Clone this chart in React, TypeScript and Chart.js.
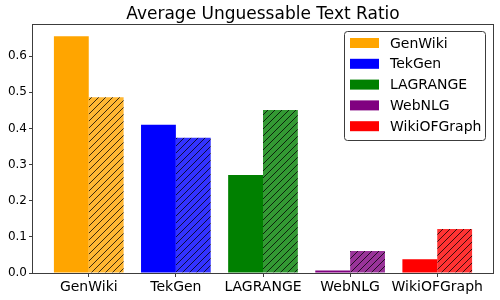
import React, { useEffect, useRef } from "react";
import { Chart, registerables } from "chart.js";

Chart.register(...registerables);

const categories = ["GenWiki", "TekGen", "LAGRANGE", "WebNLG", "WikiOFGraph"];
const solidValues = [0.655, 0.41, 0.271, 0.007, 0.038];
const hatchedValues = [0.486, 0.374, 0.451, 0.061, 0.122];
const colors = ["#FFA500", "#0000FF", "#008000", "#800080", "#FF0000"];
const hatchedColors = [
  "rgba(255,165,0,0.8)",
  "rgba(0,0,255,0.8)",
  "rgba(0,128,0,0.8)",
  "rgba(128,0,128,0.8)",
  "rgba(255,0,0,0.8)",
];
const yTicks = [0, 0.1, 0.2, 0.3, 0.4, 0.5, 0.6];
const xTicks = [0, 1, 2, 3, 4];
const titleText = "Average Unguessable Text Ratio";
const FONT = "'DejaVu Sans', sans-serif";
const LINE = "#3c3c3c";

function makeHatch(fill: string): CanvasPattern | string {
  const s = 7;
  const c = document.createElement("canvas");
  c.width = s;
  c.height = s;
  const g = c.getContext("2d");
  if (!g) return fill;
  g.fillStyle = fill;
  g.fillRect(0, 0, s, s);
  g.strokeStyle = "rgba(0,0,0,0.85)";
  g.lineWidth = 0.9;
  g.beginPath();
  g.moveTo(-1, s + 1);
  g.lineTo(s + 1, -1);
  g.moveTo(-1, 1);
  g.lineTo(1, -1);
  g.moveTo(s - 1, s + 1);
  g.lineTo(s + 1, s - 1);
  g.stroke();
  const p = g.createPattern(c, "repeat");
  return p || fill;
}

const framePlugin = {
  id: "frame",
  afterDraw(chart: any) {
    const { ctx, chartArea } = chart;
    const { left, right, top, bottom } = chartArea;
    ctx.save();
    ctx.strokeStyle = LINE;
    ctx.lineWidth = 1;
    ctx.strokeRect(Math.round(left) - 0.5, Math.round(top) - 0.5, Math.round(right - left) + 1, Math.round(bottom - top) + 1);
    // title
    ctx.fillStyle = "#000";
    ctx.font = `17px ${FONT}`;
    ctx.textAlign = "center";
    ctx.textBaseline = "middle";
    ctx.fillText(titleText, (left + right) / 2, 15);
    // legend
    const lx = 344.5, ly = 31.5, lw = 141, lh = 109;
    const r = 3;
    ctx.beginPath();
    ctx.moveTo(lx + r, ly);
    ctx.lineTo(lx + lw - r, ly);
    ctx.arcTo(lx + lw, ly, lx + lw, ly + r, r);
    ctx.lineTo(lx + lw, ly + lh - r);
    ctx.arcTo(lx + lw, ly + lh, lx + lw - r, ly + lh, r);
    ctx.lineTo(lx + r, ly + lh);
    ctx.arcTo(lx, ly + lh, lx, ly + lh - r, r);
    ctx.lineTo(lx, ly + r);
    ctx.arcTo(lx, ly, lx + r, ly, r);
    ctx.closePath();
    ctx.fillStyle = "rgba(255,255,255,0.85)";
    ctx.fill();
    ctx.strokeStyle = LINE;
    ctx.stroke();
    ctx.font = `14px ${FONT}`;
    ctx.textAlign = "left";
    categories.forEach((name, i) => {
      const cy = 43 + i * 20.8;
      ctx.fillStyle = colors[i];
      ctx.fillRect(350, cy - 5, 29, 10);
      ctx.fillStyle = "#000";
      ctx.fillText(name, 390, cy + 1);
    });
    ctx.restore();
  },
};

export default function App() {
  const ref = useRef<HTMLCanvasElement | null>(null);
  useEffect(() => {
    document.body.style.margin = "0";
    if (!ref.current) return;
    const patterns = hatchedColors.map((c) => makeHatch(c));
    const chart = new Chart(ref.current, {
      type: "bar",
      data: {
        datasets: [
          {
            data: solidValues.map((v, i) => ({ x: i, y: v })),
            backgroundColor: colors,
            borderWidth: 0,
            categoryPercentage: 0.8,
            barPercentage: 1.0,
          },
          {
            data: hatchedValues.map((v, i) => ({ x: i, y: v })),
            backgroundColor: patterns as any,
            borderWidth: 0,
            categoryPercentage: 0.8,
            barPercentage: 1.0,
          },
        ],
      },
      options: {
        animation: false,
        responsive: false,
        maintainAspectRatio: false,
        layout: { padding: { top: 25, right: 7, left: 0, bottom: 0 } },
        plugins: {
          legend: { display: false },
          title: { display: false },
          tooltip: { enabled: false },
        },
        scales: {
          x: {
            type: "linear",
            min: -0.64,
            max: 4.64,
            offset: false,
            afterBuildTicks: (scale: any) => {
              scale.ticks = xTicks.map((v) => ({ value: v }));
            },
            afterFit: (scale: any) => {
              scale.height = 27;
            },
            grid: {
              drawOnChartArea: false,
              drawTicks: true,
              tickLength: 4,
              color: LINE,
              offset: false,
            },
            border: { display: false },
            ticks: {
              autoSkip: false,
              maxRotation: 0,
              padding: 2,
              color: "#000",
              font: { family: FONT, size: 14 },
              callback: (v: any) => categories[Math.round(Number(v))] ?? "",
            },
          },
          y: {
            type: "linear",
            min: 0,
            max: 0.686,
            afterBuildTicks: (scale: any) => {
              scale.ticks = yTicks.map((v) => ({ value: v }));
            },
            afterFit: (scale: any) => {
              scale.width = 33;
            },
            grid: {
              drawOnChartArea: false,
              drawTicks: true,
              tickLength: 4,
              color: LINE,
            },
            border: { display: false },
            ticks: {
              padding: 2,
              color: "#000",
              font: { family: FONT, size: 12 },
              callback: (v: any) => Number(v).toFixed(1),
            },
          },
        },
      },
      plugins: [framePlugin],
    } as any);
    return () => chart.destroy();
  }, []);
  return (
    <div style={{ position: "fixed", left: 0, top: 0, width: 500, height: 300, background: "#fff" }}>
      <canvas ref={ref} width={500} height={300} style={{ display: "block", width: 500, height: 300 }} />
    </div>
  );
}
